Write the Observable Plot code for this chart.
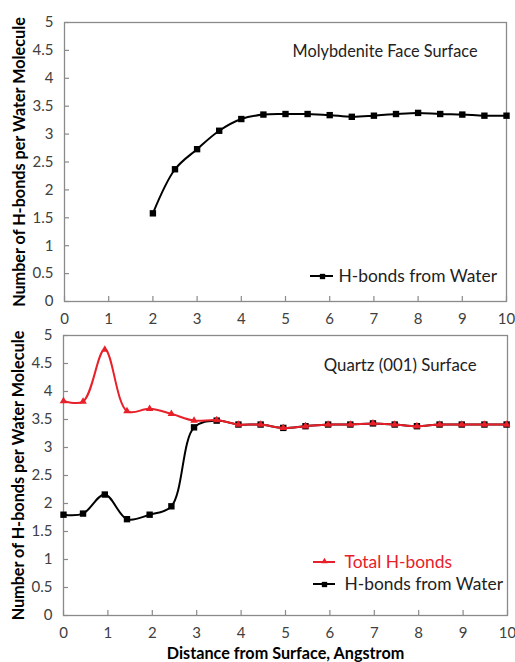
<!DOCTYPE html>
<html>
<head>
<meta charset="utf-8">
<script src="https://cdn.jsdelivr.net/npm/d3@7"></script>
<script src="https://cdn.jsdelivr.net/npm/@observablehq/plot@0.6"></script>
<style>
  html, body { margin: 0; padding: 0; background: #fff; }
  #chart { width: 515px; }
  #chart svg { display: block; }
</style>
</head>
<body>
<div id="chart"></div>
<script>
// ---- data ----
const molyX = [2, 2.5, 3, 3.5, 4, 4.5, 5, 5.5, 6, 6.5, 7, 7.5, 8, 8.5, 9, 9.5, 10];
const molyWater = [1.58, 2.37, 2.73, 3.06, 3.27, 3.35, 3.36, 3.36, 3.34, 3.31, 3.33, 3.36, 3.38, 3.36, 3.35, 3.33, 3.33];

const quartzX = [0, 0.44, 0.93, 1.43, 1.94, 2.43, 2.94, 3.45, 3.94, 4.44, 4.95, 5.45, 5.96, 6.46, 6.97, 7.46, 7.96, 8.47, 8.97, 9.48, 9.98];
const quartzTotal = [3.83, 3.82, 4.75, 3.65, 3.69, 3.60, 3.48, 3.49, 3.41, 3.41, 3.35, 3.38, 3.41, 3.41, 3.43, 3.41, 3.38, 3.41, 3.41, 3.41, 3.41];
const quartzWater = [1.80, 1.82, 2.16, 1.72, 1.80, 1.95, 3.36, 3.48, 3.41, 3.41, 3.35, 3.38, 3.41, 3.41, 3.43, 3.41, 3.38, 3.41, 3.41, 3.41, 3.41];

const xTicks = [0, 1, 2, 3, 4, 5, 6, 7, 8, 9, 10];
const yTicks = [0, 0.5, 1, 1.5, 2, 2.5, 3, 3.5, 4, 4.5, 5];

const yTitle = "Number of H-bonds per Water Molecule";
const xTitle = "Distance from Surface, Angstrom";
const molyTitle = "Molybdenite Face Surface";
const quartzTitle = "Quartz (001) Surface";
const legendTotal = "Total H-bonds";
const legendWater = "H-bonds from Water";

// ---- styles ----
const FONT = "Lato, 'Open Sans', sans-serif";
const RED = "#e8202a";
const FRAME = "#8a8a8a";
const TICKTXT = "#404040";

const molyData = molyX.map((x, i) => ({x, y: molyWater[i]}));
const totalData = quartzX.map((x, i) => ({x, y: quartzTotal[i]}));
const waterData = quartzX.map((x, i) => ({x, y: quartzWater[i]}));

function legendLine(dxRight, dyBottom, len, color) {
  return (index, scales, values, dims) => {
    const g = d3.create("svg:g");
    const x0 = dims.width - dims.marginRight + dxRight;
    const y0 = dims.height - dims.marginBottom + dyBottom;
    g.append("line").attr("x1", x0).attr("x2", x0 + len)
      .attr("y1", y0).attr("y2", y0)
      .attr("stroke", color).attr("stroke-width", 2);
    return g.node();
  };
}

function panel({height, mt, mb, ml, mr, series, extra}) {
  const plotW = 515 - ml - mr;
  const plotH = height - mt - mb;
  return Plot.plot({
    width: 515,
    height,
    marginTop: mt, marginBottom: mb, marginLeft: ml, marginRight: mr,
    style: {fontFamily: FONT, fontSize: "15px", background: "#fff", overflow: "visible"},
    x: {domain: [0, 10]},
    y: {domain: [0, 5]},
    marks: [
      Plot.frame({stroke: FRAME, strokeWidth: 1.3}),
      Plot.ruleX(xTicks, {stroke: FRAME, strokeWidth: 1.2, insetTop: plotH - 5}),
      Plot.ruleY(yTicks, {stroke: FRAME, strokeWidth: 1.2, insetRight: plotW - 5}),
      Plot.axisX({ticks: xTicks, tickSize: 0, tickPadding: 12, label: null, fill: TICKTXT, tickFormat: d => String(d)}),
      Plot.axisY({ticks: yTicks, tickSize: 0, tickPadding: 11, label: null, fill: TICKTXT, tickFormat: d => String(d)}),
      Plot.text([yTitle], {frameAnchor: "left", textAnchor: "middle", lineAnchor: "middle", rotate: -90, dx: -45, fontWeight: "bold", fontSize: 16.2, fill: "#000"}),
      ...series,
      ...extra
    ]
  });
}

const topPanel = panel({
  height: 328, mt: 22, mb: 27, ml: 64, mr: 9,
  series: [
    Plot.line(molyData, {x: "x", y: "y", curve: "catmull-rom", stroke: "#000", strokeWidth: 2}),
    Plot.dot(molyData, {x: "x", y: "y", symbol: "square", r: 3.6, fill: "#000", stroke: "none"})
  ],
  extra: [
    Plot.text([molyTitle], {frameAnchor: "top-right", textAnchor: "end", lineAnchor: "middle", dx: -29, dy: 29, fontSize: 16.3, fill: "#222"}),
    legendLine(-196, -25, 23, "#000"),
    Plot.dot([legendWater], {frameAnchor: "bottom-right", dx: -184, dy: -25, symbol: "square", r: 3, fill: "#000"}),
    Plot.text([legendWater], {frameAnchor: "bottom-right", textAnchor: "start", lineAnchor: "middle", dx: -168, dy: -25, fontSize: 17.4, fill: "#222"})
  ]
});

const bottomPanel = panel({
  height: 334, mt: 7, mb: 47, ml: 63, mr: 8,
  series: [
    Plot.line(waterData, {x: "x", y: "y", curve: "catmull-rom", stroke: "#000", strokeWidth: 2}),
    Plot.dot(waterData, {x: "x", y: "y", symbol: "square", r: 3.6, fill: "#000", stroke: "none"}),
    Plot.line(totalData, {x: "x", y: "y", curve: "catmull-rom", stroke: RED, strokeWidth: 2}),
    Plot.dot(totalData, {x: "x", y: "y", symbol: "triangle", r: 2.8, fill: RED, stroke: "none"})
  ],
  extra: [
    Plot.text([quartzTitle], {frameAnchor: "top-right", textAnchor: "end", lineAnchor: "middle", dx: -31, dy: 30, fontSize: 16.8, fill: "#222"}),
    legendLine(-194, -53, 22, RED),
    Plot.dot([legendTotal], {frameAnchor: "bottom-right", dx: -183, dy: -54, symbol: "triangle", r: 2.4, fill: RED}),
    Plot.text([legendTotal], {frameAnchor: "bottom-right", textAnchor: "start", lineAnchor: "middle", dx: -163, dy: -53, fontSize: 17.4, fill: RED}),
    legendLine(-194, -31, 22, "#000"),
    Plot.dot([legendWater], {frameAnchor: "bottom-right", dx: -183, dy: -31, symbol: "square", r: 3, fill: "#000"}),
    Plot.text([legendWater], {frameAnchor: "bottom-right", textAnchor: "start", lineAnchor: "middle", dx: -163, dy: -31, fontSize: 17.4, fill: "#222"}),
    Plot.text([xTitle], {frameAnchor: "bottom", lineAnchor: "middle", dy: 38, fontWeight: "bold", fontSize: 16.2, fill: "#000"})
  ]
});

document.getElementById("chart").append(topPanel, bottomPanel);
</script>
</body>
</html>
